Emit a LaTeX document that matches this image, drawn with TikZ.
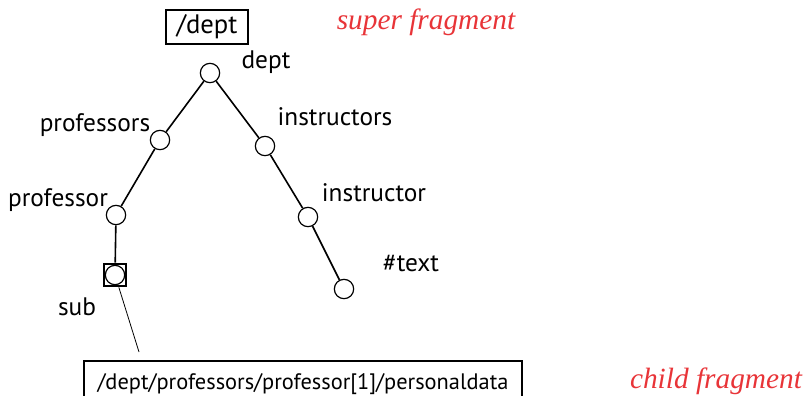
\documentclass[tikz,border=0pt]{standalone}
\usepackage{fontspec}
\setmainfont{PT Sans}
\newfontfamily\fragfont{Liberation Serif}
\definecolor{fragred}{RGB}{232, 52, 56}
\usetikzlibrary{positioning}

\begin{document}
\begin{tikzpicture}[x=0.75pt, y=-0.75pt,
  elem/.style={circle, draw, line width=0.9pt, minimum size=14.5pt, inner sep=0pt},
  tag/.style={font=\fontsize{19}{23}\selectfont, inner sep=0pt},
  pathbox/.style={draw, line width=1.2pt, inner sep=0pt},
  fragtag/.style={font=\fontsize{22}{26}\selectfont\fragfont\itshape, text=fragred, inner sep=0pt},
  edge/.style={line width=1.2pt}]
  \useasboundingbox (0, 0) rectangle (807, 396);

  % Root path box
  \node[pathbox, font=\fontsize{20}{24}\selectfont, minimum width=61.5pt, minimum height=25.5pt] (rootpath) at (207, 27) {/dept};
  \node[fragtag] (superfrag) at (426, 22) {super fragment};

  % Tree nodes
  \node[elem] (dept) at (210, 73) {};
  \node[elem] (professors) at (160, 140) {};
  \node[elem] (instructors) at (265, 146) {};
  \node[elem] (professor) at (116, 215) {};
  \node[elem] (instructor) at (308, 217) {};
  \node[draw, line width=1.5pt, minimum size=17pt, inner sep=0pt] (subbox) at (115, 275) {};
  \node[elem] (sub) at (115, 275) {};
  \node[elem] (text) at (344, 289) {};

  % Labels
  \node[tag] at (266, 62) {dept};
  \node[tag] at (95, 125) {professors};
  \node[tag] at (335, 117) {instructors};
  \node[tag] at (58, 200) {professor};
  \node[tag] at (374, 193) {instructor};
  \node[tag] at (411, 264) {\#text};
  \node[tag] at (77, 307) {sub};

  % Edges
  \draw[edge] (dept) -- (professors);
  \draw[edge] (dept) -- (instructors);
  \draw[edge] (professors) -- (professor);
  \draw[edge] (professor) -- (subbox);
  \draw[edge] (instructors) -- (instructor);
  \draw[edge] (instructor) -- (text);

  % Child fragment
  \node[pathbox, font=\fontsize{16.8}{20}\selectfont, minimum width=328.5pt, minimum height=34.5pt] (childpath) at (303, 384) {/dept/professors/professor[1]/personaldata};
  \node[fragtag] (childfrag) at (716, 381) {child fragment};
  \coordinate (subend) at (139, 352);
  \draw[line width=0.6pt] (subbox) -- (subend);
\end{tikzpicture}
\end{document}
